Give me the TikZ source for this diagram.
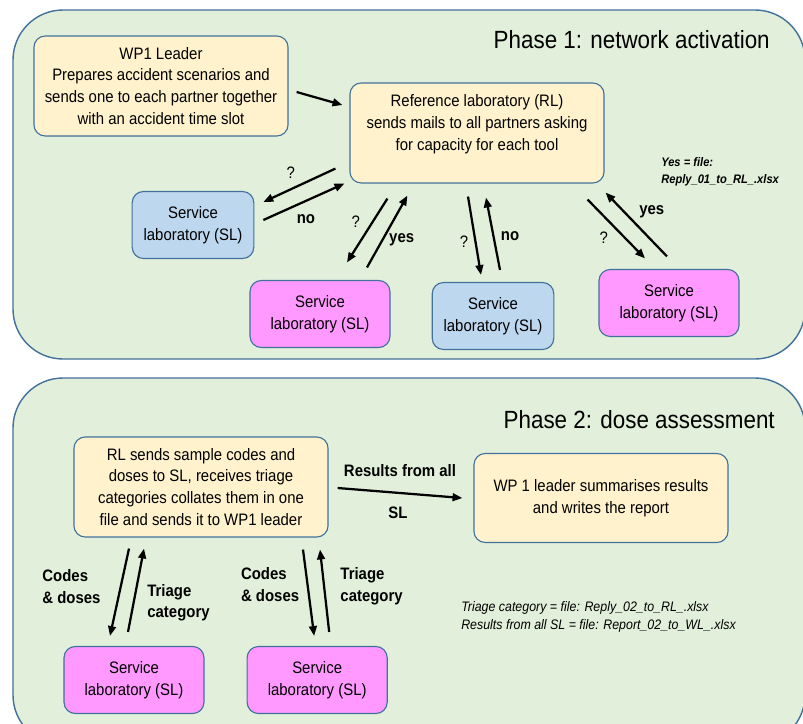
\documentclass[tikz,border=0pt]{standalone}
\usepackage{fontspec}
\setmainfont{Liberation Sans}[FakeStretch=0.9]
\usetikzlibrary{arrows.meta,positioning}

\definecolor{panelfill}{HTML}{E2EFDA}
\definecolor{edgeblue}{HTML}{41719C}
\definecolor{taskfill}{HTML}{FFF2CC}
\definecolor{idlefill}{HTML}{BDD7EE}
\definecolor{busyfill}{HTML}{FF99FF}

\newcommand{\bodyfont}{\fontsize{11.8pt}{15.6pt}\selectfont}
\newcommand{\titlefont}{\fontsize{17.7pt}{21pt}\selectfont}
\newcommand{\notefont}{\fontsize{8.8pt}{11.8pt}\selectfont}
\newcommand{\remarkfont}{\fontsize{9.8pt}{12.8pt}\selectfont}

\tikzset{
  panel/.style={draw=edgeblue, line width=1pt, fill=panelfill, rounded corners=1.25cm},
  task/.style={draw=edgeblue, line width=0.8pt, fill=taskfill, rounded corners=8pt,
    align=center, font=\bodyfont, minimum width=6.35cm, minimum height=2.5cm, inner sep=0pt},
  service/.style={draw=edgeblue, line width=0.8pt, rounded corners=8pt, align=center,
    font=\bodyfont, minimum width=3.5cm, minimum height=1.675cm, inner sep=0pt},
  idle/.style={service, fill=idlefill, minimum width=3.04cm},
  busy/.style={service, fill=busyfill},
  flow/.style={-{Triangle[length=7pt,width=5.5pt]}, line width=1.6pt},
  answer/.style={font=\bfseries\bodyfont, inner sep=0pt},
  query/.style={font=\bodyfont, inner sep=0pt},
  heading/.style={font=\titlefont, anchor=east, inner sep=0pt}
}

\begin{document}
\begin{tikzpicture}[x=0.025cm, y=-0.025cm]
  \clip (0,0) rectangle (803,724);
  \draw[panel] (13,10)  rectangle (805,359);
  \draw[panel] (13,378) rectangle (805,745);

  % phase 1
  \node[heading] (phase one)  at (770,40)  {Phase 1: network activation};
  \node[task]    (wp1 leader) at (161,86)  {WP1 Leader\\Prepares accident scenarios and\\sends one to each partner together\\with an accident time slot};
  \node[task]    (ref lab)    at (477,133) {Reference laboratory (RL)\\sends mails to all partners asking\\for capacity for each tool\\[-5.7pt] \strut};
  \node[idle]    (sl a)       at (193,225) {Service\\laboratory (SL)};
  \node[busy]    (sl b)       at (320,314) {Service\\laboratory (SL)};
  \node[idle]    (sl c)       at (493,316) {Service\\laboratory (SL)};
  \node[busy]    (sl d)       at (669,303) {Service\\laboratory (SL)};
  \node[font=\notefont\bfseries\itshape, align=left, anchor=west, inner sep=0pt]
                 (reply one)  at (661,172) {Yes = file:\\Reply\_01\_to\_RL\_.xlsx};

  \draw[flow] ([shift={(8,6)}]wp1 leader.east) -- ([shift={(-7,-28)}]ref lab.west);
  \draw[flow] ([shift={(-14,-15)}]ref lab.south west) -- ([shift={(9,-23)}]sl a.east)
    node[query, midway, shift={(-8.5,-13)}] (ask a) {?};
  \draw[flow] ([shift={(9,-5)}]sl a.east) -- ([shift={(-5,0)}]ref lab.south west)
    node[answer, midway, shift={(2,17.5)}] (no a) {no};
  \draw[flow] ([shift={(38,15)}]ref lab.south west) -- ([shift={(27,-17.5)}]sl b.north)
    node[query, midway, shift={(-11.5,-8.5)}] (ask b) {?};
  \draw[flow] ([shift={(47,-12.5)}]sl b.north) -- ([shift={(58,12)}]ref lab.south west)
    node[answer, midway, shift={(14.5,8.5)}] (yes b) {yes};
  \draw[flow] ([shift={(-9,13)}]ref lab.south) -- ([shift={(-12,-7)}]sl c.north)
    node[query, midway, shift={(-10.5,6)}] (ask c) {?};
  \draw[flow] ([shift={(7,-12)}]sl c.north) -- ([shift={(9,14)}]ref lab.south)
    node[answer, midway, shift={(17,2)}] (no c) {no};
  \draw[flow] ([shift={(-17,16)}]ref lab.south east) -- ([shift={(-24,-10.5)}]sl d.north)
    node[query, midway, shift={(-12.5,9)}] (ask d) {?};
  \draw[flow] ([shift={(-2,-12.5)}]sl d.north) -- ([shift={(1,9)}]ref lab.south east)
    node[answer, midway, shift={(15.5,-12.5)}] (yes d) {yes};

  % phase 2
  \node[heading] (phase two)  at (775,420) {Phase 2: dose assessment};
  \node[task]    (rl collate) at (201,487) {RL sends sample codes and\\doses to SL, receives triage\\categories collates them in one\\file and sends it to WP1 leader};
  \node[task, minimum height=2.225cm]
                 (wp1 report) at (601,498) {WP 1 leader summarises results\\and writes the report};
  \node[busy]    (sl e)       at (134,680) {Service\\laboratory (SL)};
  \node[busy]    (sl f)       [right=1.05cm of sl e] {Service\\laboratory (SL)};
  \node[font=\remarkfont\itshape, align=left, anchor=west, inner sep=0pt]
                 (reply two)  at (461,617) {Triage category = file: Reply\_02\_to\_RL\_.xlsx\\Results from all SL = file: Report\_02\_to\_WL\_.xlsx};

  \draw[flow] ([shift={(9,1)}]rl collate.east) -- ([shift={(-11,0)}]wp1 report.west)
    node[answer, midway, shift={(0,-22)}] (all results) {Results from all}
    node[answer, midway, shift={(-2,20)}] (all sl) {SL};
  \draw[flow] ([shift={(-72,11)}]rl collate.south) -- ([shift={(-24,-10)}]sl e.north)
    node[answer, midway, align=left, shift={(-48,-5.5)}] (codes e) {Codes\\\& doses};
  \draw[flow] ([shift={(-6,-14)}]sl e.north) -- ([shift={(-57,11)}]rl collate.south)
    node[answer, midway, align=left, shift={(42.5,12.5)}] (triage e) {Triage\\category};
  \draw[flow] ([shift={(102,12)}]rl collate.south) -- ([shift={(-3,-10)}]sl f.north)
    node[answer, midway, align=left, shift={(-38.5,-8)}] (codes f) {Codes\\\& doses};
  \draw[flow] ([shift={(12,-14)}]sl f.north) -- ([shift={(119,12)}]rl collate.south)
    node[answer, midway, align=left, shift={(47,-4.5)}] (triage f) {Triage\\category};
\end{tikzpicture}
\end{document}
